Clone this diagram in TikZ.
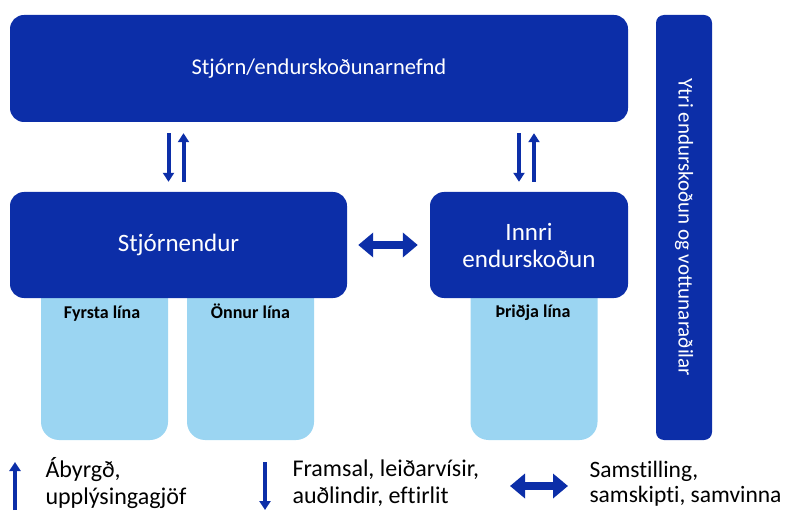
\documentclass[tikz,border=0pt]{standalone}
\usepackage{fontspec}
\setmainfont{Carlito}[Ligatures=NoCommon]
\usetikzlibrary{arrows.meta}
\definecolor{darkblue}{RGB}{12,46,168}
\definecolor{lightblue}{RGB}{155,213,242}
\tikzset{
  bluebox/.style={fill=darkblue, text=white, rounded corners=14pt, inner sep=0pt, font=\fontsize{25}{27}\selectfont, align=center},
  linebox/.style={fill=lightblue, rounded corners=18pt, minimum width=127pt, minimum height=180pt},
  linelabel/.style={anchor=base, font=\fontsize{18}{20}\selectfont\bfseries},
  legendtext/.style={anchor=west, align=left, font=\fontsize{24}{27}\selectfont},
  flow/.style={darkblue, line width=4pt, -{Triangle[width=11pt,length=9pt]}},
  both/.style={darkblue, line width=8pt, {Triangle[width=24pt,length=15pt]}-{Triangle[width=24pt,length=15pt]}},
}

\begin{document}
\begin{tikzpicture}[x=1pt,y=-1pt]
  \useasboundingbox (0,0) rectangle (790,513);
  % the three lines
  \node[linebox] (first) at (104.5,350) {};
  \node[linebox] (second) at (250.5,350) {};
  \node[linebox] (third) at (534,350) {};
  \node[linelabel] (firstlbl) at (102,318) {Fyrsta lína};
  \node[linelabel] (secondlbl) at (250.5,318) {Önnur lína};
  \node[linelabel] (thirdlbl) at (533,317) {Þriðja lína};
  % boxes
  \node[bluebox, minimum width=618pt, minimum height=107pt, font=\fontsize{22.5}{24}\selectfont] (board) at (319,68.5) {Stjórn/endurskoðunarnefnd};
  \node[bluebox, minimum width=337pt, minimum height=106pt] (mgmt) at (178.5,245) {Stjórnendur};
  \node[bluebox, minimum width=198pt, minimum height=106pt] (internal) at (529,245) {Innri\\endurskoðun};
  \node[bluebox, minimum width=56pt, minimum height=425pt, rounded corners=8pt] (external) at (684,227.5) {};
  \node[text=white, rotate=-90, font=\fontsize{21}{24}\selectfont] (extlbl) at (external.center) {Ytri endurskoðun og vottunaraðilar};
  % arrows
  \draw[flow] ([xshift=-10pt,yshift=-11pt]board.south -| mgmt.north) -- ([xshift=-10pt,yshift=10pt]mgmt.north);
  \draw[flow] ([xshift=5pt,yshift=10pt]mgmt.north) -- ([xshift=5pt,yshift=-11pt]board.south -| mgmt.north);
  \draw[flow] ([xshift=-10pt,yshift=-11pt]board.south -| internal.north) -- ([xshift=-10pt,yshift=10pt]internal.north);
  \draw[flow] ([xshift=5pt,yshift=10pt]internal.north) -- ([xshift=5pt,yshift=-11pt]board.south -| internal.north);
  \draw[both] ([xshift=11pt]mgmt.east) -- ([xshift=-12pt]internal.west);
  % legend
  \coordinate (upbot) at (15,510);
  \coordinate (uptop) at (15,462);
  \coordinate (downtop) at (265,462);
  \coordinate (downbot) at (265,510);
  \coordinate (bothl) at (510,486);
  \coordinate (bothr) at (568,486);
  \draw[flow] (upbot) -- (uptop);
  \draw[flow] (downtop) -- (downbot);
  \draw[both] (bothl) -- (bothr);
  \node[legendtext] (uptxt) at (42,483) {Ábyrgð,\\upplýsingagjöf};
  \node[legendtext] (downtxt) at (289,483) {Framsal, leiðarvísir,\\auðlindir, eftirlit};
  \node[legendtext, font=\fontsize{23.5}{25}\selectfont] (bothtxt) at (586,484) {Samstilling,\\samskipti, samvinna};
\end{tikzpicture}
\end{document}
